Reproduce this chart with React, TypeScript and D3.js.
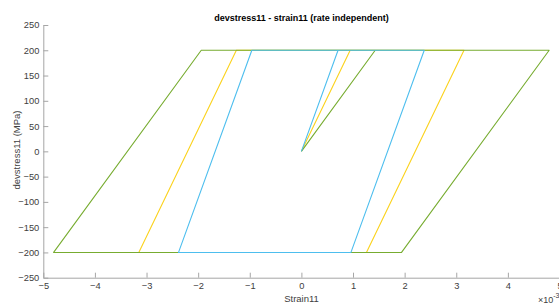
import * as d3 from 'd3';
import { useEffect, useRef } from 'react';

// strain values are in units of 1e-3
const stressPath = [0, 200, 200, -200, -200, 200, 200];
const yellowStrain = [0, 0.945, 3.15, 1.26, -3.15, -1.26, 3.15];
const greenStrain = [0, 1.43, 4.8, 1.94, -4.8, -1.94, 4.8];
const blueStrain = [0, 0.71, 2.38, 0.96, -2.38, -0.96, 2.38];

const xTicks = [-5, -4, -3, -2, -1, 0, 1, 2, 3, 4, 5];
const yTicks = [-250, -200, -150, -100, -50, 0, 50, 100, 150, 200, 250];

const series = [
    { name: 'yellow', strain: yellowStrain, color: '#FBD21C' },
    { name: 'green', strain: greenStrain, color: '#77AC30' },
    { name: 'blue', strain: blueStrain, color: '#4DBEEE' },
];

const App = () => {
    const graphRef = useRef<SVGSVGElement | null>(null);

    useEffect(() => {
        const svg = d3.select(graphRef.current);
        svg.selectAll('*').remove();

        const width = 559;
        const height = 305;
        const font = 'Liberation Sans, Arial, Helvetica, sans-serif';

        // scales
        const xScale = d3.scaleLinear().domain([-5, 5]).range([43.3, 559.5]);
        const yScale = d3.scaleLinear().domain([-250, 250]).range([277.7, 25]);

        const axisColor = '#a6a6a6';
        const textColor = '#404040';

        // y axis
        const yAxis = d3.axisLeft(yScale).tickValues(yTicks).tickSizeInner(-5).tickSizeOuter(0).tickPadding(4);
        const gy = svg.append('g')
            .attr('transform', `translate(${xScale(-5)}, 0)`)
            .call(yAxis);

        // x axis
        const xAxis = d3.axisBottom(xScale).tickValues(xTicks).tickSizeInner(-5).tickSizeOuter(0).tickPadding(4);
        const gx = svg.append('g')
            .attr('transform', `translate(0, ${yScale(-250)})`)
            .call(xAxis);

        [gx, gy].forEach(g => {
            g.select('.domain').attr('stroke', axisColor).attr('stroke-width', 1);
            g.selectAll('.tick line').attr('stroke', axisColor);
            g.selectAll('.tick text')
                .attr('fill', textColor)
                .style('font-family', font)
                .style('font-size', '9.3px');
        });
        gx.selectAll('.tick text').attr('dy', '0.8em');

        // lines
        const line = d3.line<[number, number]>()
            .x(d => xScale(d[0]))
            .y(d => yScale(d[1]));

        series.forEach(s => {
            const pts: [number, number][] = s.strain.map((v, i) => [v, stressPath[i]]);
            svg.append('path')
                .datum(pts)
                .attr('d', line)
                .attr('fill', 'none')
                .attr('stroke', s.color)
                .attr('stroke-width', 1.1)
                .attr('stroke-linejoin', 'round');
        });

        // title
        svg.append('text')
            .attr('x', 301.5)
            .attr('y', 21)
            .attr('text-anchor', 'middle')
            .style('font-family', font)
            .style('font-size', '9px')
            .style('font-weight', 'bold')
            .attr('fill', '#000')
            .text('devstress11 - strain11 (rate independent)');

        // axis labels
        svg.append('text')
            .attr('x', 301.5)
            .attr('y', 301.5)
            .attr('text-anchor', 'middle')
            .style('font-family', font)
            .style('font-size', '9.5px')
            .attr('fill', textColor)
            .text('Strain11');

        svg.append('text')
            .attr('transform', `translate(20, 150) rotate(-90)`)
            .attr('text-anchor', 'middle')
            .style('font-family', font)
            .style('font-size', '9.5px')
            .attr('fill', textColor)
            .text('devstress11 (MPa)');

        // exponent
        const exp = svg.append('text')
            .attr('x', 538)
            .attr('y', 303)
            .style('font-family', font)
            .style('font-size', '9px')
            .attr('fill', textColor);
        exp.append('tspan').text('\u00d710');
        exp.append('tspan').attr('dy', -5).style('font-size', '7px').text('-3');

        svg.attr('width', width).attr('height', height);
    }, []);

    return <svg ref={graphRef} width="559" height="305" style={{ position: 'absolute', left: 0, top: 0, background: '#fff' }}></svg>;
};

export default App;
